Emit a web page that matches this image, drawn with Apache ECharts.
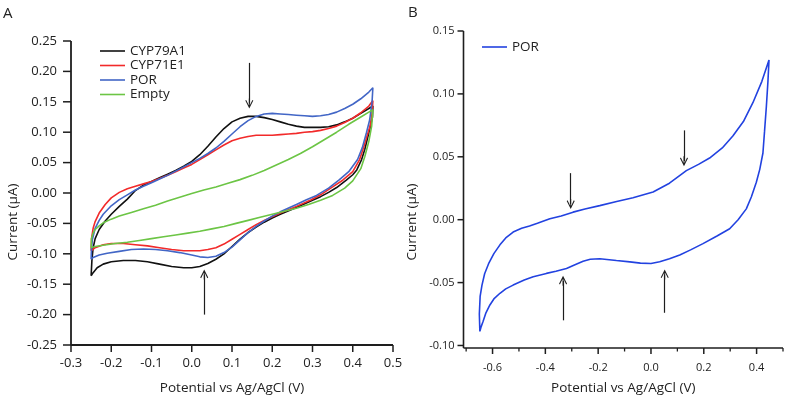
<!DOCTYPE html>
<html>
<head>
<meta charset="utf-8">
<script src="https://cdn.jsdelivr.net/npm/echarts@6/dist/echarts.min.js"></script>
<style>html,body{margin:0;padding:0;background:#fff}#c{width:787px;height:400px}</style>
</head>
<body>
<div id="c"></div>
<script>
// ---------- Panel A data (potential V, current µA) ----------
const seriesNamesA = ['CYP79A1', 'CYP71E1', 'POR', 'Empty'];
const cyp79a1 = [
 [-0.25,-0.136],[-0.248,-0.11],[-0.245,-0.09],[-0.24,-0.075],[-0.23,-0.06],[-0.215,-0.046],[-0.2,-0.035],[-0.18,-0.022],[-0.16,-0.01],[-0.14,0.004],[-0.12,0.013],[-0.1,0.019],[-0.08,0.025],[-0.06,0.031],[-0.04,0.037],[-0.02,0.044],[0.0,0.052],[0.02,0.063],[0.04,0.077],[0.06,0.092],[0.08,0.106],[0.1,0.117],[0.12,0.123],[0.14,0.126],[0.16,0.126],[0.18,0.124],[0.2,0.121],[0.22,0.117],[0.24,0.113],[0.26,0.110],[0.28,0.108],[0.3,0.108],[0.32,0.108],[0.34,0.109],[0.36,0.112],[0.38,0.117],[0.4,0.123],[0.42,0.131],[0.44,0.139],[0.45,0.143],
 [0.449,0.125],[0.445,0.113],[0.44,0.099],[0.43,0.072],[0.422,0.055],[0.41,0.038],[0.4,0.03],[0.384,0.021],[0.36,0.009],[0.34,0.001],[0.32,-0.006],[0.3,-0.012],[0.26,-0.024],[0.22,-0.035],[0.2,-0.041],[0.18,-0.048],[0.16,-0.056],[0.14,-0.065],[0.12,-0.076],[0.1,-0.088],[0.08,-0.1],[0.06,-0.109],[0.04,-0.116],[0.02,-0.121],[0.0,-0.123],[-0.02,-0.123],[-0.05,-0.121],[-0.08,-0.117],[-0.11,-0.113],[-0.14,-0.111],[-0.17,-0.111],[-0.2,-0.113],[-0.22,-0.117],[-0.235,-0.123],[-0.245,-0.131],[-0.25,-0.136]
];
const cyp71e1 = [
 [-0.25,-0.095],[-0.249,-0.075],[-0.245,-0.058],[-0.24,-0.047],[-0.23,-0.033],[-0.215,-0.019],[-0.2,-0.008],[-0.18,0.001],[-0.16,0.007],[-0.14,0.011],[-0.12,0.015],[-0.1,0.019],[-0.08,0.024],[-0.06,0.029],[-0.04,0.035],[-0.02,0.041],[0.0,0.047],[0.02,0.055],[0.04,0.063],[0.06,0.071],[0.08,0.079],[0.1,0.086],[0.12,0.09],[0.14,0.093],[0.16,0.095],[0.18,0.095],[0.2,0.095],[0.22,0.096],[0.24,0.097],[0.26,0.098],[0.28,0.1],[0.3,0.101],[0.32,0.103],[0.34,0.106],[0.36,0.11],[0.38,0.116],[0.4,0.123],[0.42,0.132],[0.44,0.143],[0.45,0.152],
 [0.448,0.13],[0.443,0.11],[0.437,0.097],[0.427,0.075],[0.417,0.055],[0.4,0.035],[0.375,0.021],[0.35,0.01],[0.32,-0.003],[0.297,-0.011],[0.26,-0.022],[0.22,-0.033],[0.2,-0.039],[0.18,-0.045],[0.16,-0.052],[0.14,-0.06],[0.12,-0.068],[0.1,-0.076],[0.08,-0.084],[0.06,-0.09],[0.04,-0.093],[0.02,-0.095],[0.0,-0.095],[-0.02,-0.095],[-0.05,-0.093],[-0.08,-0.09],[-0.11,-0.087],[-0.14,-0.085],[-0.17,-0.083],[-0.2,-0.083],[-0.22,-0.085],[-0.24,-0.09],[-0.25,-0.095]
];
const porA = [
 [-0.25,-0.109],[-0.249,-0.09],[-0.247,-0.077],[-0.24,-0.058],[-0.23,-0.045],[-0.22,-0.035],[-0.2,-0.021],[-0.18,-0.011],[-0.16,-0.003],[-0.14,0.005],[-0.12,0.011],[-0.1,0.017],[-0.08,0.023],[-0.06,0.029],[-0.04,0.036],[-0.02,0.043],[0.0,0.05],[0.02,0.057],[0.04,0.065],[0.06,0.074],[0.08,0.085],[0.1,0.097],[0.12,0.109],[0.14,0.119],[0.16,0.126],[0.18,0.13],[0.2,0.131],[0.22,0.13],[0.24,0.129],[0.26,0.128],[0.28,0.127],[0.3,0.126],[0.32,0.127],[0.34,0.129],[0.36,0.133],[0.38,0.139],[0.4,0.146],[0.42,0.155],[0.44,0.166],[0.45,0.173],
 [0.448,0.15],[0.442,0.12],[0.434,0.099],[0.424,0.075],[0.412,0.055],[0.39,0.035],[0.367,0.022],[0.34,0.008],[0.31,-0.004],[0.285,-0.011],[0.26,-0.019],[0.22,-0.031],[0.2,-0.038],[0.18,-0.046],[0.16,-0.055],[0.14,-0.065],[0.12,-0.077],[0.1,-0.089],[0.08,-0.098],[0.06,-0.104],[0.04,-0.106],[0.02,-0.105],[0.0,-0.102],[-0.03,-0.098],[-0.06,-0.095],[-0.09,-0.093],[-0.12,-0.092],[-0.15,-0.093],[-0.18,-0.096],[-0.21,-0.099],[-0.23,-0.102],[-0.245,-0.106],[-0.25,-0.109]
];
const empty = [
 [-0.25,-0.09],[-0.249,-0.075],[-0.245,-0.066],[-0.24,-0.06],[-0.23,-0.054],[-0.22,-0.049],[-0.2,-0.043],[-0.18,-0.038],[-0.15,-0.032],[-0.12,-0.026],[-0.09,-0.02],[-0.06,-0.013],[-0.03,-0.007],[0.0,-0.001],[0.03,0.005],[0.06,0.01],[0.09,0.016],[0.12,0.022],[0.15,0.029],[0.18,0.037],[0.21,0.046],[0.24,0.055],[0.27,0.065],[0.3,0.076],[0.33,0.088],[0.36,0.1],[0.39,0.113],[0.42,0.125],[0.44,0.133],[0.45,0.137],
 [0.447,0.11],[0.44,0.085],[0.43,0.06],[0.42,0.04],[0.4,0.02],[0.38,0.008],[0.35,-0.004],[0.32,-0.012],[0.29,-0.019],[0.26,-0.025],[0.23,-0.03],[0.2,-0.035],[0.17,-0.04],[0.14,-0.045],[0.11,-0.05],[0.08,-0.055],[0.05,-0.059],[0.02,-0.063],[-0.01,-0.066],[-0.04,-0.069],[-0.07,-0.072],[-0.1,-0.075],[-0.13,-0.078],[-0.16,-0.081],[-0.19,-0.083],[-0.22,-0.086],[-0.24,-0.088],[-0.25,-0.09]
];
// ---------- Panel B data ----------
const porB = [
 [-0.648,-0.0888],[-0.65,-0.075],[-0.647,-0.061],[-0.64,-0.052],[-0.63,-0.043],[-0.615,-0.035],[-0.595,-0.027],[-0.572,-0.02],[-0.55,-0.0145],[-0.522,-0.0098],[-0.49,-0.0068],[-0.46,-0.005],[-0.43,-0.0028],[-0.383,0.0007],[-0.34,0.003],[-0.295,0.006],[-0.25,0.0085],[-0.194,0.0112],[-0.13,0.0145],[-0.068,0.0175],[0.008,0.022],[0.07,0.029],[0.134,0.039],[0.18,0.044],[0.222,0.049],[0.27,0.057],[0.31,0.0665],[0.35,0.078],[0.386,0.093],[0.42,0.11],[0.447,0.127],
 [0.443,0.11],[0.437,0.09],[0.43,0.07],[0.424,0.053],[0.412,0.04],[0.399,0.0297],[0.38,0.018],[0.361,0.0086],[0.33,0.0],[0.298,-0.0072],[0.25,-0.013],[0.197,-0.019],[0.15,-0.024],[0.109,-0.028],[0.07,-0.031],[0.033,-0.0335],[0.0,-0.0348],[-0.04,-0.0345],[-0.08,-0.0335],[-0.131,-0.0325],[-0.194,-0.031],[-0.23,-0.0315],[-0.257,-0.033],[-0.29,-0.036],[-0.32,-0.0388],[-0.36,-0.041],[-0.396,-0.0427],[-0.446,-0.0453],[-0.48,-0.048],[-0.522,-0.052],[-0.55,-0.055],[-0.572,-0.0585],[-0.595,-0.063],[-0.61,-0.0678],[-0.625,-0.074],[-0.636,-0.081],[-0.643,-0.085],[-0.648,-0.0888]
];
// ---------- Annotation arrows [x, yStart, yEnd] ----------
const arrowsA = [[0.143, 0.214, 0.147], [0.031, -0.200, -0.134]];
const arrowsB = [[-0.304, 0.037, 0.0125], [0.125, 0.071, 0.0465], [-0.333, -0.080, -0.0485], [0.052, -0.074, -0.0435]];
// ---------- Axis ranges and tick values ----------
const xRangeA = [-0.3, 0.5];
const yRangeA = [-0.25, 0.25];
const xRangeB = [-0.71, 0.5];
const yRangeB = [-0.102, 0.15];
const xTicksA = [-0.3,-0.2,-0.1,0.0,0.1,0.2,0.3,0.4,0.5];
const yTicksA = [-0.25,-0.2,-0.15,-0.1,-0.05,0.0,0.05,0.1,0.15,0.2,0.25];
const xTicksB = [-0.6,-0.4,-0.2,0.0,0.2,0.4];
const xMinorTicksB = [-0.7,-0.5,-0.3,-0.1,0.1,0.3,0.5];
const yTicksB = [-0.1,-0.05,0.0,0.05,0.1,0.15];

const colorsA = ['#111111', '#f22a2a', '#4266c6', '#6cc545'];
const colorB = '#2242e0';
const axisColor = '#1e1e1e';
const FONT = 'Open Sans';
const lineIcon = 'path://M0,0 L25,0 L25,1.6 L0,1.6 Z';

function fmt(d) { return function (v) { if (Math.abs(v) < 1e-9) v = 0; return v.toFixed(d); }; }
const arrowPath = 'path://M5,0 L10,8 L8.9,8.7 L5.6,3.3 L5.6,10 L4.4,10 L4.4,3.3 L1.1,8.7 L0,8 Z';
function arrowMark(list) {
  return {
    silent: true, animation: false,
    symbol: ['none', arrowPath], symbolSize: [8, 10],
    label: { show: false },
    lineStyle: { color: '#1e1e1e', width: 1.2, type: 'solid' },
    data: list.map(a => [{ coord: [a[0], a[1]] }, { coord: [a[0], a[2]] }])
  };
}

const dataA = [cyp79a1, cyp71e1, porA, empty];
const series = dataA.map((d, i) => ({
  name: seriesNamesA[i], type: 'line', xAxisIndex: 0, yAxisIndex: 0,
  data: d, symbol: 'none', smooth: false, animation: false,
  lineStyle: { color: colorsA[i], width: 1.6 }, itemStyle: { color: colorsA[i] },
  markLine: i === 0 ? arrowMark(arrowsA) : undefined
}));
series.push({
  name: 'POR', type: 'line', xAxisIndex: 1, yAxisIndex: 1,
  data: porB, symbol: 'none', smooth: false, animation: false,
  lineStyle: { color: colorB, width: 1.6 }, itemStyle: { color: colorB },
  markLine: arrowMark(arrowsB)
});

function xAxisDef(gi, range, ticks, fs, margin, gap) {
  return {
    gridIndex: gi, type: 'value', min: range[0], max: range[1], position: 'bottom',
    axisLine: { show: false, onZero: false }, axisTick: { show: false }, splitLine: { show: false },
    axisLabel: { show: true, customValues: ticks, fontSize: fs, fontFamily: FONT, color: '#222', margin: margin, formatter: fmt(1) },
    name: 'Potential vs Ag/AgCl (V)', nameLocation: 'middle', nameGap: gap,
    nameTextStyle: { fontSize: 13.5, fontFamily: FONT, color: '#222' }
  };
}
function yAxisDef(gi, range, ticks, fs, margin) {
  return {
    gridIndex: gi, type: 'value', min: range[0], max: range[1], position: 'left',
    axisLine: { show: false, onZero: false }, axisTick: { show: false }, splitLine: { show: false },
    axisLabel: { show: true, customValues: ticks, fontSize: fs, fontFamily: FONT, color: '#222', margin: margin, formatter: fmt(2) }
  };
}

const chart = echarts.init(document.getElementById('c'), null, { renderer: 'canvas' });
chart.setOption({
  animation: false,
  grid: [
    { left: 71, top: 41, width: 322, height: 305 },
    { left: 463.5, top: 31, width: 319.5, height: 318 }
  ],
  xAxis: [
    xAxisDef(0, xRangeA, xTicksA, 13, 12, 36),
    xAxisDef(1, xRangeB, xTicksB, 11, 14, 33)
  ],
  yAxis: [
    yAxisDef(0, yRangeA, yTicksA, 13, 14),
    yAxisDef(1, yRangeB, yTicksB, 11, 9)
  ],
  legend: [
    {
      orient: 'vertical', left: 95, top: 39, itemWidth: 25, itemHeight: 1.6, itemGap: 0.5,
      icon: lineIcon,
      textStyle: { fontSize: 13.5, fontFamily: FONT, color: '#222' },
      data: seriesNamesA.map((n, i) => ({ name: n, itemStyle: { color: colorsA[i] } })),
      selectedMode: false
    },
    {
      orient: 'vertical', left: 477, top: 35, itemWidth: 25, itemHeight: 1.6,
      icon: lineIcon,
      textStyle: { fontSize: 13.5, fontFamily: FONT, color: '#222' },
      data: [{ name: 'POR', itemStyle: { color: colorB } }],
      selectedMode: false
    }
  ],
  series: series
});

// ---------- Axis lines and ticks, positioned through the chart's own scales ----------
const elements = [
  { type: 'text', left: 3, top: 6, style: { text: 'A', fontSize: 15, fill: '#222', fontFamily: FONT } },
  { type: 'text', left: 408, top: 5, style: { text: 'B', fontSize: 15, fill: '#222', fontFamily: FONT } },
  { type: 'text', x: 13, y: 222, rotation: Math.PI / 2,
    style: { text: 'Current (μA)', fontSize: 13.5, fill: '#222', fontFamily: FONT, align: 'center', verticalAlign: 'middle' } },
  { type: 'text', x: 412, y: 222, rotation: Math.PI / 2,
    style: { text: 'Current (μA)', fontSize: 13.5, fill: '#222', fontFamily: FONT, align: 'center', verticalAlign: 'middle' } }
];
function px(gi, x, y) { return chart.convertToPixel({ xAxisIndex: gi, yAxisIndex: gi }, [x, y]); }
function seg(a, b, w) {
  return { type: 'line', silent: true, z: 50,
    shape: { x1: a[0], y1: a[1], x2: b[0], y2: b[1] },
    style: { stroke: axisColor, lineWidth: w } };
}
function addFrame(gi, xr, yr, xt, yt, xLen, yLen, w) {
  const c0 = px(gi, xr[0], yr[0]);
  const cTop = px(gi, xr[0], yr[1]);
  const cRight = px(gi, xr[1], yr[0]);
  elements.push(seg(cTop, [c0[0], c0[1]], w));
  elements.push(seg([c0[0], c0[1]], cRight, w));
  xt.forEach(t => { const p = px(gi, t, yr[0]); elements.push(seg(p, [p[0], p[1] + xLen], 1.5)); });
  yt.forEach(t => { const p = px(gi, xr[0], t); elements.push(seg([p[0] - yLen, p[1]], p, 1.5)); });
}
addFrame(0, xRangeA, yRangeA, xTicksA, yTicksA, 7, 8, 1.8);
addFrame(1, xRangeB, yRangeB, xTicksB, yTicksB, 6, 6, 1.6);
xMinorTicksB.forEach(t => { const p = px(1, t, yRangeB[0]); elements.push(seg(p, [p[0], p[1] + 3.5], 1.3)); });

chart.setOption({ graphic: { elements: elements } });
</script>
</body>
</html>
